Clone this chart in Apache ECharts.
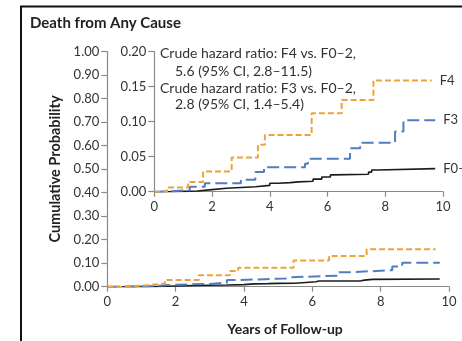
<!DOCTYPE html>
<html>
<head>
<meta charset="utf-8">
<script src="https://cdn.jsdelivr.net/npm/echarts@6/dist/echarts.min.js"></script>
<style>
html, body { margin: 0; padding: 0; background: #fff; }
#chart { width: 462px; height: 341px; }
</style>
</head>
<body>
<div id="chart"></div>
<script>
// step points (years, cumulative probability)
var f4Years = [0, 0.44, 1.17, 1.69, 2.68, 3.59, 3.83, 5.45, 6.49, 7.59, 9.61];
var f4Prob  = [0, 0.006, 0.014, 0.029, 0.049, 0.067, 0.081, 0.112, 0.131, 0.159, 0.159];

var f3Years = [0, 0.15, 1.23, 1.75, 3.0, 3.5, 3.8, 5.22, 5.32, 6.78, 7.13, 8.34, 8.63, 9.73];
var f3Prob  = [0, 0.002, 0.007, 0.012, 0.017, 0.028, 0.035, 0.04, 0.047, 0.062, 0.07, 0.086, 0.102, 0.102];

var f02Years = [0, 0.5, 0.95, 1.5, 2.0, 2.5, 3.0, 3.5, 4.0, 4.3, 4.7, 5.0, 5.5, 5.8, 6.1, 6.2, 7.42, 7.53, 7.76, 9.73];
var f02Prob  = [0, 0.0005, 0.001, 0.003, 0.005, 0.006, 0.007, 0.009, 0.012, 0.013, 0.014, 0.015, 0.018, 0.021, 0.024, 0.025, 0.028, 0.031, 0.033, 0.033];

var groupNames = ['F4', 'F3', 'F0\u20132'];
var noteLines = [
    'Crude hazard ratio: F4 vs. F0\u20132,',
    '5.6 (95% CI, 2.8\u201311.5)',
    'Crude hazard ratio: F3 vs. F0\u20132,',
    '2.8 (95% CI, 1.4\u20135.4)'
];

function pairs(xs, ys) {
    return xs.map(function (x, i) { return [x, ys[i]]; });
}

var FONT = 'Lato';
var axisGray = '#8a8a8a';
var orange = '#eda23b';
var blue = '#4f7fc2';
var black = '#1c1c1c';

function xAxisFor(gridIndex) {
    return {
        type: 'value', gridIndex: gridIndex, min: 0, max: 10, interval: 2,
        axisLine: { lineStyle: { color: axisGray, width: 1.2 } },
        axisTick: { length: 5, lineStyle: { color: axisGray, width: 1.2 } },
        axisLabel: { margin: 9, color: '#333', fontFamily: FONT, fontSize: 13 },
        splitLine: { show: false }
    };
}

function yAxisFor(gridIndex, max, interval) {
    return {
        type: 'value', gridIndex: gridIndex, min: 0, max: max, interval: interval,
        axisLine: { show: true, lineStyle: { color: axisGray, width: 1.2 } },
        axisTick: { show: true, length: 6, lineStyle: { color: axisGray, width: 1.2 } },
        axisLabel: {
            margin: 8, color: '#333', fontFamily: FONT, fontSize: 13,
            formatter: function (v) { return v.toFixed(2); }
        },
        splitLine: { show: false }
    };
}

function stepSeries(name, data, idx, color, dash, width, withLabel) {
    return {
        name: name,
        type: 'line',
        step: 'end',
        xAxisIndex: idx,
        yAxisIndex: idx,
        data: data,
        symbol: 'none',
        silent: true,
        lineStyle: { color: color, width: width, type: dash },
        endLabel: {
            show: withLabel,
            formatter: name,
            distance: 8,
            color: '#333',
            fontFamily: FONT,
            fontSize: 13
        }
    };
}

var chart = echarts.init(document.getElementById('chart'));

var series = [];
[0, 1].forEach(function (idx) {
    var lab = idx === 1;
    series.push(stepSeries(groupNames[2], pairs(f02Years, f02Prob), idx, black, 'solid', 1.6, lab));
    series.push(stepSeries(groupNames[1], pairs(f3Years, f3Prob), idx, blue, [12, 5], 2, lab));
    series.push(stepSeries(groupNames[0], pairs(f4Years, f4Prob), idx, orange, [6, 3], 2, lab));
});

var noteY = [53, 71, 88, 104];
var noteX = [160, 175, 160, 175];

var graphics = [
    {
        type: 'rect', silent: true,
        shape: { x: 21, y: 6.5, width: 470, height: 360 },
        style: { fill: 'none', stroke: '#111', lineWidth: 2 }
    },
    {
        type: 'text', x: 30, y: 23.5,
        style: { text: 'Death from Any Cause', font: 'bold 15px ' + FONT, fill: '#222', textVerticalAlign: 'middle' }
    },
    {
        type: 'text', x: 55, y: 169, rotation: Math.PI / 2,
        style: {
            text: 'Cumulative Probability', font: 'bold 14.5px ' + FONT, fill: '#222',
            textAlign: 'center', textVerticalAlign: 'middle'
        }
    },
    {
        type: 'text', x: 285, y: 329,
        style: {
            text: 'Years of Follow-up', font: 'bold 14px ' + FONT, fill: '#222',
            textAlign: 'center', textVerticalAlign: 'middle'
        }
    }
];
noteLines.forEach(function (t, i) {
    graphics.push({
        type: 'text', x: noteX[i], y: noteY[i],
        style: { text: t, font: '14px ' + FONT, fill: '#333', textVerticalAlign: 'middle' }
    });
});

chart.setOption({
    animation: false,
    grid: [
        { left: 107.3, top: 51.7, width: 341.7, height: 235 },
        { left: 154.3, top: 51.7, width: 288.7, height: 140 }
    ],
    xAxis: [xAxisFor(0), xAxisFor(1)],
    yAxis: [yAxisFor(0, 1, 0.1), yAxisFor(1, 0.2, 0.05)],
    series: series,
    graphic: graphics
});
</script>
</body>
</html>
